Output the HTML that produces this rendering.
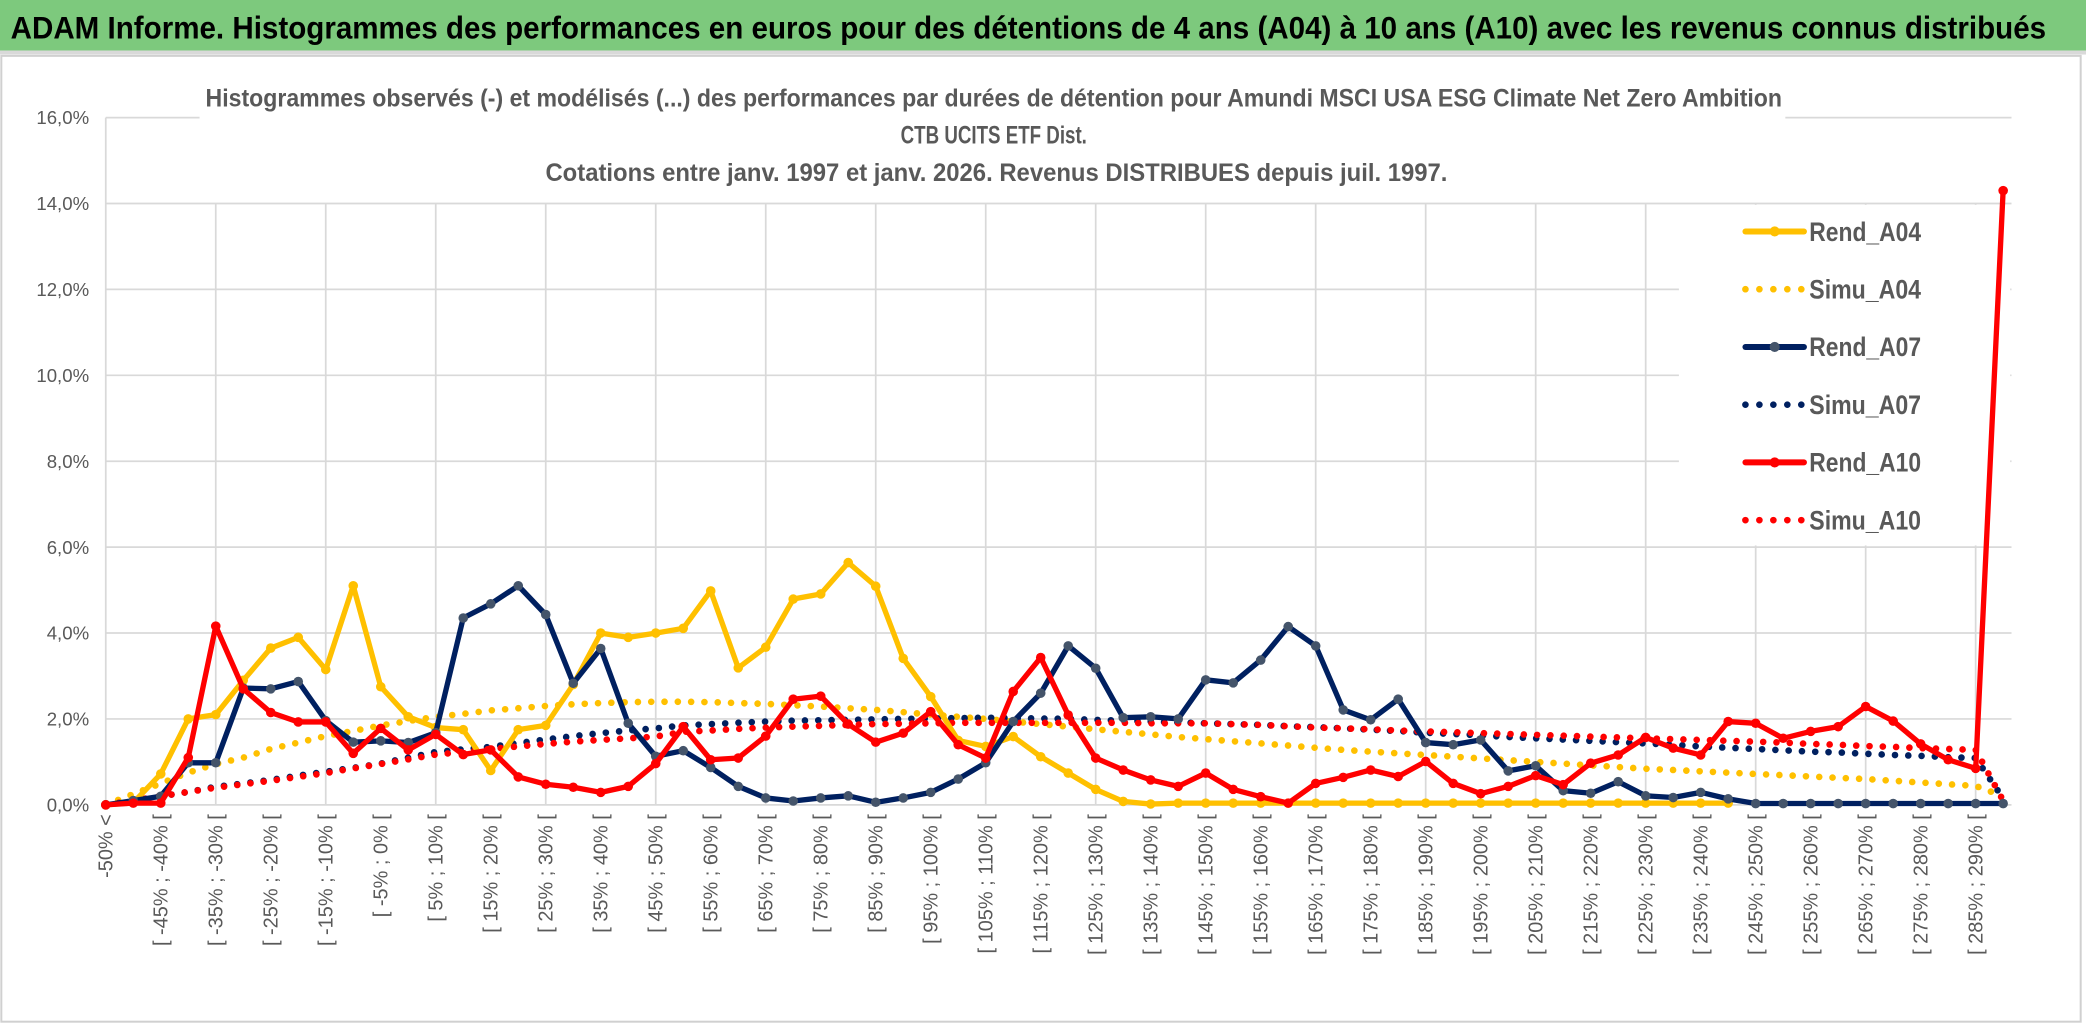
<!DOCTYPE html>
<html><head><meta charset="utf-8"><style>
html,body{margin:0;padding:0;background:#fff;}
svg{display:block;}
text{font-family:"Liberation Sans Narrow","Liberation Sans",sans-serif;}
</style></head><body>
<svg id="chart" width="2086" height="1031" viewBox="0 0 1568 775" preserveAspectRatio="none" xmlns="http://www.w3.org/2000/svg">
<rect x="0" y="0" width="1568" height="38" fill="#7dc97d"/>
<rect x="0" y="38" width="1568" height="3" fill="#d9d9d9"/>
<text x="8" y="29" font-size="24" font-weight="bold" fill="#000" textLength="1530" lengthAdjust="spacingAndGlyphs">ADAM Informe. Histogrammes des performances en euros pour des détentions de 4 ans (A04) à 10 ans (A10) avec les revenus connus distribués</text>
<rect x="1" y="42" width="1563" height="726" fill="#fff" stroke="#d0d0d0" stroke-width="1.5"/>
<g id="grid"></g>
<g id="yaxis"></g>
<g id="xaxis"></g>
<rect x="150" y="58" width="1192" height="93" fill="#fff"/>
<rect x="1262" y="154" width="249" height="256" fill="#fff"/>
<text x="747" y="80" font-size="19" font-weight="bold" fill="#595959" text-anchor="middle" textLength="1185" lengthAdjust="spacingAndGlyphs">Histogrammes observés (-) et modélisés (...) des performances  par durées de détention pour Amundi MSCI USA ESG Climate Net Zero Ambition</text>
<text x="747" y="108" font-size="19" font-weight="bold" fill="#595959" text-anchor="middle" textLength="140" lengthAdjust="spacingAndGlyphs">CTB UCITS ETF Dist.</text>
<text x="749" y="136" font-size="19" font-weight="bold" fill="#595959" text-anchor="middle" textLength="678" lengthAdjust="spacingAndGlyphs">Cotations entre janv. 1997 et janv. 2026. Revenus DISTRIBUES depuis juil. 1997.</text>
<g id="legend"></g>
<g id="series"></g>
</svg>
<script>
const categories = ["-50% <"];
for (let b = -50; b < 295; b += 5) categories.push("[ " + b + "% ; " + (b + 5) + "% [");
const yTicks = [0, 2, 4, 6, 8, 10, 12, 14, 16];
const yTickLabels = ["0,0%", "2,0%", "4,0%", "6,0%", "8,0%", "10,0%", "12,0%", "14,0%", "16,0%"];
const rendA04 = [0,0.05,0.72,2.0,2.1,2.9,3.65,3.9,3.15,5.1,2.75,2.05,1.8,1.75,0.8,1.75,1.85,2.8,4.0,3.9,4.0,4.11,4.98,3.19,3.67,4.79,4.91,5.64,5.09,3.41,2.52,1.5,1.36,1.59,1.12,0.74,0.36,0.08,0.02,0.04,0.04,0.04,0.04,0.04,0.04,0.04,0.04,0.04,0.04,0.04,0.04,0.04,0.04,0.04,0.04,0.04,0.04,0.04,0.04,0.04,null,null,null,null,null,null,null,null,null,null];
const simuA04 = [0,0.25,0.5,0.75,0.95,1.1,1.3,1.45,1.6,1.72,1.85,1.95,2.05,2.12,2.2,2.25,2.3,2.34,2.37,2.39,2.4,2.4,2.39,2.37,2.35,2.32,2.29,2.25,2.21,2.16,2.1,2.05,2.0,1.94,1.88,1.82,1.76,1.7,1.64,1.58,1.53,1.48,1.43,1.38,1.33,1.28,1.24,1.2,1.16,1.12,1.08,1.04,1.0,0.96,0.92,0.88,0.84,0.81,0.78,0.75,0.72,0.69,0.66,0.63,0.6,0.56,0.52,0.48,0.44,0.2];
const rendA07 = [0,0.1,0.2,0.98,0.98,2.72,2.7,2.87,1.96,1.46,1.49,1.45,1.68,4.35,4.68,5.1,4.43,2.83,3.64,1.9,1.13,1.26,0.87,0.43,0.16,0.09,0.16,0.21,0.06,0.16,0.29,0.6,0.98,1.94,2.6,3.7,3.18,2.03,2.05,2.0,2.91,2.84,3.37,4.15,3.7,2.21,1.98,2.46,1.45,1.4,1.51,0.79,0.91,0.33,0.27,0.54,0.21,0.17,0.29,0.14,0.03,0.03,0.03,0.03,0.03,0.03,0.03,0.03,0.03,0.03];
const simuA07 = [0,0.1,0.2,0.3,0.42,0.5,0.58,0.68,0.77,0.86,0.96,1.1,1.23,1.29,1.35,1.44,1.52,1.6,1.67,1.73,1.78,1.85,1.88,1.91,1.94,1.96,1.97,1.98,1.99,2.0,2.01,2.02,2.03,2.02,2.01,2.0,1.98,1.96,1.94,1.92,1.9,1.88,1.86,1.83,1.81,1.78,1.75,1.72,1.68,1.65,1.62,1.58,1.55,1.52,1.49,1.46,1.43,1.4,1.36,1.33,1.3,1.27,1.24,1.22,1.19,1.16,1.14,1.11,1.09,0.15];
const rendA10 = [0,0.04,0.04,1.1,4.16,2.7,2.15,1.93,1.93,1.2,1.78,1.28,1.64,1.17,1.28,0.65,0.48,0.41,0.29,0.43,0.96,1.82,1.05,1.09,1.6,2.46,2.53,1.88,1.46,1.67,2.17,1.4,1.09,2.64,3.43,2.09,1.09,0.81,0.58,0.43,0.74,0.36,0.19,0.04,0.5,0.64,0.81,0.66,1.01,0.5,0.26,0.43,0.68,0.47,0.97,1.16,1.57,1.32,1.16,1.94,1.9,1.55,1.71,1.82,2.29,1.95,1.42,1.05,0.85,14.3];
const simuA10 = [0,0.1,0.2,0.3,0.4,0.48,0.56,0.65,0.74,0.85,0.95,1.06,1.17,1.23,1.3,1.36,1.42,1.47,1.51,1.55,1.59,1.7,1.73,1.77,1.8,1.82,1.84,1.86,1.88,1.89,1.9,1.91,1.91,1.91,1.91,1.91,1.91,1.91,1.9,1.9,1.9,1.88,1.86,1.83,1.8,1.78,1.76,1.73,1.71,1.69,1.67,1.65,1.63,1.61,1.59,1.57,1.55,1.53,1.51,1.49,1.47,1.45,1.42,1.4,1.37,1.35,1.32,1.3,1.28,0.1];

const NS = "http://www.w3.org/2000/svg";
const X0 = 79.5, DX = 20.67, Y0 = 605, YMAX = 88.4, VMAX = 16, XRIGHT = 1512;
function xScale(i){ return X0 + i * DX; }
function yScale(v){ return Y0 - (v / VMAX) * (Y0 - YMAX); }
function mk(tag, attrs, parent){ const e = document.createElementNS(NS, tag); for (const k in attrs) e.setAttribute(k, attrs[k]); parent.appendChild(e); return e; }

const grid = document.getElementById("grid");
yTicks.forEach((t, k) => {
  const l = mk("line", {x1: X0, x2: XRIGHT, y1: yScale(t), y2: yScale(t), stroke: "#d9d9d9", "stroke-width": 1.3}, grid);
  
  
});
for (let i = 0; i < categories.length; i += 4) {
  const l = mk("line", {x1: xScale(i), x2: xScale(i), y1: i === 0 ? YMAX : yScale(14), y2: Y0, stroke: "#d9d9d9", "stroke-width": 1.3}, grid);
  
  
}
const yaxis = document.getElementById("yaxis");
yTicks.forEach((t, k) => {
  const tx = mk("text", {x: 67, y: yScale(t) + 5, "font-size": 14, fill: "#595959", "text-anchor": "end"}, yaxis);
  tx.textContent = yTickLabels[k];
  
  
});
const xaxis = document.getElementById("xaxis");
for (let i = 0; i < categories.length; i += 2) {
  const x = xScale(i) + 5, y = 612;
  const tx = mk("text", {x: x, y: y, "font-size": 15, fill: "#595959", "text-anchor": "end", transform: "rotate(-90 " + x + " " + y + ")"}, xaxis);
  tx.textContent = categories[i];
  
  
}

const series = document.getElementById("series");
function pathFor(vals){
  let d = ""; let pen = false;
  vals.forEach((v, i) => { if (v === null) { pen = false; return; } d += (pen ? "L" : "M") + xScale(i).toFixed(1) + "," + yScale(v).toFixed(1); pen = true; });
  return d;
}
function drawSim(vals, color, name){
  const p = mk("path", {d: pathFor(vals), fill: "none", stroke: color, "stroke-width": 5, "stroke-linecap": "round", "stroke-dasharray": "0 10"}, series);
  
  
}
function drawRend(vals, color, mcolor, name){
  const g = mk("g", {}, series);
  
  
  mk("path", {d: pathFor(vals), fill: "none", stroke: color, "stroke-width": 4, "stroke-linejoin": "round"}, g);
  vals.forEach((v, i) => {
    if (v === null) return;
    const c = mk("circle", {cx: xScale(i), cy: yScale(v), r: 3.6, fill: mcolor}, g);
    
    
  });
}
drawSim(simuA04, "#ffc000", "simu-a04-line");
drawSim(simuA07, "#002060", "simu-a07-line");
drawSim(simuA10, "#ff0000", "simu-a10-line");
drawRend(rendA04, "#ffc000", "#ffc000", "rend-a04-line");
drawRend(rendA07, "#002060", "#44546a", "rend-a07-line");
drawRend(rendA10, "#ff0000", "#ff0000", "rend-a10-line");

const legend = document.getElementById("legend");
const legNames = ["Rend_A04", "Simu_A04", "Rend_A07", "Simu_A07", "Rend_A10", "Simu_A10"];
const legColors = ["#ffc000", "#ffc000", "#002060", "#002060", "#ff0000", "#ff0000"];
const legMarkers = ["#ffc000", null, "#44546a", null, "#ff0000", null];
legNames.forEach((n, k) => {
  const cy = 174 + k * 43.4;
  const g = mk("g", {}, legend);
  
  
  if (legMarkers[k]) {
    mk("line", {x1: 1312, x2: 1356, y1: cy, y2: cy, stroke: legColors[k], "stroke-width": 4.5, "stroke-linecap": "round"}, g);
    mk("circle", {cx: 1334, cy: cy, r: 3.8, fill: legMarkers[k]}, g);
  } else {
    mk("line", {x1: 1312, x2: 1356, y1: cy, y2: cy, stroke: legColors[k], "stroke-width": 5, "stroke-linecap": "round", "stroke-dasharray": "0 10.5"}, g);
  }
  const t = mk("text", {x: 1360, y: cy + 7, "font-size": 20, "font-weight": "bold", fill: "#595959", textLength: 84, lengthAdjust: "spacingAndGlyphs"}, g);
  t.textContent = n;
});
</script>
</body></html>
